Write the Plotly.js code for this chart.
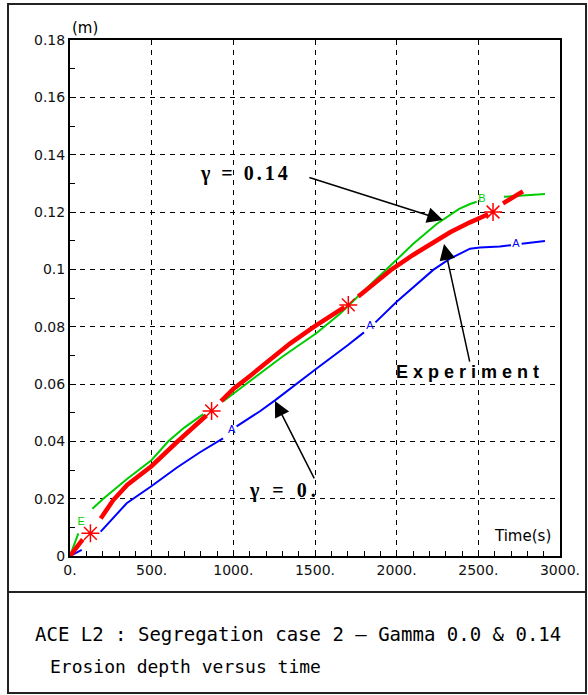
<!DOCTYPE html>
<html>
<head>
<meta charset="utf-8">
<script src="https://cdn.plot.ly/plotly-3.0.1.min.js"></script>
<style>
html,body{margin:0;padding:0;background:#fff;}
#chart{width:588px;height:695px;}
</style>
</head>
<body>
<div id="chart"></div>
<script>
// ---- tick labels ----
const xTickVals = [0, 500, 1000, 1500, 2000, 2500, 3000];
const xTickText = ['0.', '500.', '1000.', '1500.', '2000.', '2500.', '3000.'];
const yTickVals = [0, 0.02, 0.04, 0.06, 0.08, 0.10, 0.12, 0.14, 0.16, 0.18];
const yTickText = ['0', '0.02', '0.04', '0.06', '0.08', '0.1', '0.12', '0.14', '0.16', '0.18'];

// ---- gamma = 0 (blue), null = gap at curve label ----
const blueX = [0, 72, null, 188, 347, 500, 653, 796, 937, null, 1020, 1163, 1255, 1347, 1510, 1700, 1800, null, 1870, 2000, 2224, 2326, 2449, 2510, 2632, 2700, null, 2765, 2908];
const blueY = [0, 0.0021, null, 0.0085, 0.0184, 0.0244, 0.0308, 0.0362, 0.0410, null, 0.0452, 0.0505, 0.0543, 0.0582, 0.0654, 0.0735, 0.0780, null, 0.0815, 0.0887, 0.0998, 0.1037, 0.1072, 0.1076, 0.1080, 0.1084, null, 0.1089, 0.1099];
const blueLabelX = [990, 1837, 2730];
const blueLabelY = [0.0439, 0.0802, 0.1087];
const blueLabels = ['A', 'A', 'A'];

// ---- gamma = 0.14 (green) ----
const greenX = [0, 51, null, 137, 200, 347, 500, 602, 700, 816, null, 939, 1102, 1300, 1510, 1653, 1800, 1959, 2100, 2245, 2380, 2449, 2490, null, 2657, 2908];
const greenY = [0, 0.0079, null, 0.0165, 0.0198, 0.0268, 0.0335, 0.0400, 0.0448, 0.0495, null, 0.0540, 0.0610, 0.0695, 0.0778, 0.0845, 0.0925, 0.1012, 0.1088, 0.1158, 0.1210, 0.1228, 0.1236, null, 0.1253, 0.1263];
const greenLabelX = [68, 2522];
const greenLabelY = [0.0118, 0.1243];
const greenLabels = ['E', 'B'];

// ---- experiment (red) ----
const redX = [0, 78, null, 188, 265, 350, 500, 650, 760, 835, null, 925, 1000, 1102, 1200, 1347, 1495, 1600, 1680, null, 1765, 1898, 1970, 2100, 2204, 2330, 2449, 2560, null, 2651, 2773];
const redY = [0, 0.0058, null, 0.0131, 0.0195, 0.0248, 0.0314, 0.0395, 0.0450, 0.0490, null, 0.0540, 0.0583, 0.0628, 0.0672, 0.0741, 0.0800, 0.0840, 0.0868, null, 0.0905, 0.0968, 0.1000, 0.1050, 0.1088, 0.1130, 0.1164, 0.1192, null, 0.1230, 0.1272];
const starX = [125, 867, 1704, 2590];
const starY = [0.0079, 0.0506, 0.0876, 0.1200];

// ---- texts ----
const captionLine1 = 'ACE L2 : Segregation case 2 \u2013 Gamma 0.0 & 0.14';
const captionLine2 = 'Erosion depth versus time';

const traces = [
  {x: blueX, y: blueY, mode: 'lines', line: {color: '#0000ff', width: 2}, connectgaps: false},
  {x: blueLabelX, y: blueLabelY, mode: 'text', text: blueLabels, textfont: {family: 'Liberation Sans Narrow, Arial', size: 11, color: '#0000ff'}, textposition: 'middle center'},
  {x: greenX, y: greenY, mode: 'lines', line: {color: '#00cc00', width: 2}, connectgaps: false},
  {x: greenLabelX, y: greenLabelY, mode: 'text', text: greenLabels, textfont: {family: 'Liberation Sans Narrow, Arial', size: 11, color: '#00cc00'}, textposition: 'middle center'},
  {x: redX, y: redY, mode: 'lines', line: {color: '#ff0000', width: 4.5}, connectgaps: false},
  {x: starX, y: starY, mode: 'markers', marker: {symbol: 'asterisk-open', size: 15, color: '#ff0000', line: {color: '#ff0000', width: 1.5}}, cliponaxis: false}
];

const tickFont = {family: 'DejaVu Sans', size: 14, color: '#111'};
const spaced = (t, s) => '<span style="letter-spacing:' + s + 'px">' + t + '</span>';

const layout = {
  width: 588, height: 695,
  margin: {l: 70, r: 28, t: 40, b: 139},
  paper_bgcolor: '#fff', plot_bgcolor: '#fff',
  showlegend: false,
  font: {family: 'DejaVu Sans', color: '#000'},
  xaxis: {
    range: [0, 3000], tickmode: 'array', tickvals: xTickVals, ticktext: xTickText,
    showline: true, linecolor: '#000', linewidth: 2, mirror: true,
    ticks: 'inside', ticklen: 6, tickcolor: '#000', tickfont: tickFont,
    showgrid: true, gridcolor: '#000', gridwidth: 1, griddash: '5px,5px',
    zeroline: false,
    minor: {dtick: 100, ticks: 'inside', ticklen: 5, tickcolor: '#000', showgrid: false}
  },
  yaxis: {
    range: [0, 0.18], tickmode: 'array', tickvals: yTickVals, ticktext: yTickText,
    showline: true, linecolor: '#000', linewidth: 2, mirror: true,
    ticks: 'inside', ticklen: 6, tickcolor: '#000', tickfont: tickFont,
    showgrid: true, gridcolor: '#000', gridwidth: 1, griddash: '5px,5px',
    zeroline: false,
    minor: {dtick: 0.01, ticks: 'inside', ticklen: 5, tickcolor: '#000', showgrid: false}
  },
  shapes: [
    {type: 'rect', xref: 'paper', yref: 'paper', x0: -0.1265, x1: 1.0531, y0: -0.2655, y1: 1.0698, line: {color: '#222', width: 2}},
    {type: 'line', xref: 'paper', yref: 'paper', x0: -0.1265, x1: 1.0531, y0: -0.0698, y1: -0.0698, line: {color: '#222', width: 2}}
  ],
  annotations: [
    {xref: 'paper', yref: 'paper', x: 0.0296, y: 1.0233, text: '(m)', showarrow: false, font: {family: 'DejaVu Sans', size: 15, color: '#000'}, xanchor: 'center', yanchor: 'middle'},
    {xref: 'paper', yref: 'paper', x: 0.9225, y: 0.0388, text: 'Time(s)', showarrow: false, font: {family: 'DejaVu Sans', size: 15, color: '#000'}, xanchor: 'center', yanchor: 'middle'},
    // labels
    {x: 1077, y: 0.1336, text: spaced('\u03b3 = 0.14', 3), showarrow: false, font: {family: 'Liberation Serif', size: 20, color: '#000', weight: 'bold'}, xanchor: 'center', yanchor: 'middle'},
    {x: 2449, y: 0.0642, text: spaced('Experiment', 5), showarrow: false, font: {family: 'Liberation Sans', size: 18, color: '#000', weight: 'bold'}, xanchor: 'center', yanchor: 'middle'},
    {x: 1316, y: 0.0230, text: spaced('\u03b3 = 0.', 4), showarrow: false, font: {family: 'Liberation Serif', size: 20, color: '#000', weight: 'bold'}, xanchor: 'center', yanchor: 'middle'},
    // arrows
    {x: 2283, y: 0.1172, ax: -135, ay: -43, text: '', showarrow: true, arrowhead: 2, arrowsize: 2.1, arrowwidth: 1.5, arrowcolor: '#000'},
    {x: 2290, y: 0.1088, ax: 26, ay: 119, text: '', showarrow: true, arrowhead: 2, arrowsize: 2.1, arrowwidth: 1.5, arrowcolor: '#000'},
    {x: 1255, y: 0.0541, ax: 40, ay: 79, text: '', showarrow: true, arrowhead: 2, arrowsize: 2.1, arrowwidth: 1.5, arrowcolor: '#000'},
    // caption
    {xref: 'paper', yref: 'paper', x: -0.0755, y: -0.1512, text: captionLine1, showarrow: false, font: {family: 'DejaVu Sans Mono', size: 19, color: '#000'}, xanchor: 'left', yanchor: 'middle'},
    {xref: 'paper', yref: 'paper', x: -0.0449, y: -0.2151, text: captionLine2, showarrow: false, font: {family: 'DejaVu Sans Mono', size: 18, color: '#000'}, xanchor: 'left', yanchor: 'middle'}
  ]
};

Plotly.newPlot('chart', traces, layout, {staticPlot: true, displayModeBar: false});
</script>
</body>
</html>
